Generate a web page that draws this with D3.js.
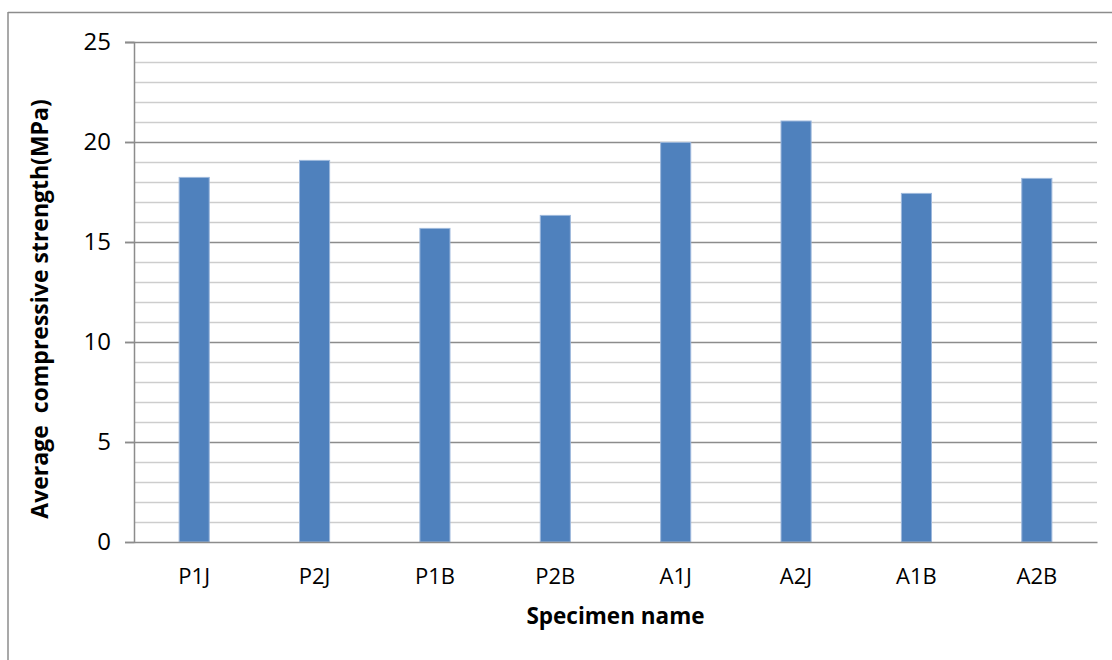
<!DOCTYPE html>
<html>
<head>
<meta charset="utf-8">
<script src="https://cdn.jsdelivr.net/npm/d3@7/dist/d3.min.js"></script>
<style>
  html, body { margin: 0; padding: 0; background: #fff; }
  svg { display: block; }
  text { font-family: "Open Sans", "DejaVu Sans", sans-serif; fill: #000; }
</style>
</head>
<body>
<svg id="chart" width="1112" height="660"></svg>
<script>
const categories = ["P1J", "P2J", "P1B", "P2B", "A1J", "A2J", "A1B", "A2B"];
const values = [18.23, 19.08, 15.68, 16.33, 19.98, 21.05, 17.43, 18.18];
const majorTicks = [0, 5, 10, 15, 20, 25];
const minorTicks = d3.range(0, 26, 1);
const yTitle = "Average  compressive strength(MPa)";
const xTitle = "Specimen name";

const svg = d3.select("#chart");
const W = 1112, H = 660;
const m = { left: 134, right: 1097, top: 42, bottom: 542 };

// outer frame
svg.append("line").attr("x1", 8).attr("x2", W).attr("y1", 12.5).attr("y2", 12.5)
  .attr("stroke", "#8c8c8c").attr("stroke-width", 1.5);
svg.append("line").attr("x1", 8).attr("x2", 8).attr("y1", 12).attr("y2", H)
  .attr("stroke", "#8c8c8c").attr("stroke-width", 1.5);

const x = d3.scaleBand().domain(categories).range([m.left, m.right]).paddingInner(0).paddingOuter(0);
const y = d3.scaleLinear().domain([0, 25]).range([m.bottom, m.top]);

// minor gridlines
svg.append("g").selectAll("line").data(minorTicks.filter(d => d % 5 !== 0)).join("line")
  .attr("x1", m.left).attr("x2", m.right)
  .attr("y1", d => Math.round(y(d)) + 0.5).attr("y2", d => Math.round(y(d)) + 0.5)
  .attr("stroke", "#cdcdcd").attr("stroke-width", 1.5);
// major gridlines
svg.append("g").selectAll("line").data(majorTicks.filter(d => d > 0)).join("line")
  .attr("x1", m.left - 9).attr("x2", m.right)
  .attr("y1", d => Math.round(y(d)) + 0.5).attr("y2", d => Math.round(y(d)) + 0.5)
  .attr("stroke", "#8c8c8c").attr("stroke-width", 1.5);

// bars
const bw = x.bandwidth() * 0.25;
svg.append("g").selectAll("rect").data(values).join("rect")
  .attr("x", (d, i) => x(categories[i]) + x.bandwidth() / 2 - bw / 2)
  .attr("width", bw)
  .attr("y", d => y(d))
  .attr("height", d => y(0) - y(d))
  .attr("fill", "#4F81BD")
  .attr("stroke", "#9db8dc").attr("stroke-width", 1);

// y axis
const yAxis = svg.append("g").attr("transform", `translate(${m.left},0)`)
  .call(d3.axisLeft(y).tickValues(majorTicks).tickSize(9).tickPadding(14).tickFormat(d3.format("d")));
yAxis.select(".domain").attr("stroke", "#8c8c8c").attr("stroke-width", 1.5);
yAxis.selectAll(".tick line").attr("stroke", "#8c8c8c").attr("stroke-width", 1.5);
yAxis.selectAll(".tick text").attr("font-size", 24).attr("font-family", "Open Sans").attr("fill", "#000");

// x axis
const xAxis = svg.append("g").attr("transform", `translate(0,${m.bottom})`)
  .call(d3.axisBottom(x).tickSize(0).tickPadding(26));
xAxis.select(".domain").attr("stroke", "#8c8c8c").attr("stroke-width", 1.5);
xAxis.selectAll(".tick text").attr("font-size", 22).attr("font-family", "Open Sans").attr("fill", "#000");

// titles
svg.append("text").attr("x", (m.left + m.right) / 2).attr("y", 624)
  .attr("text-anchor", "middle").attr("font-size", 22.5).attr("font-weight", "bold").text(xTitle);
svg.append("text").attr("transform", `translate(48,309) rotate(-90)`)
  .attr("text-anchor", "middle").attr("font-size", 23).attr("font-weight", "bold")
  .attr("xml:space", "preserve").style("white-space", "pre").text(yTitle);
</script>
</body>
</html>
